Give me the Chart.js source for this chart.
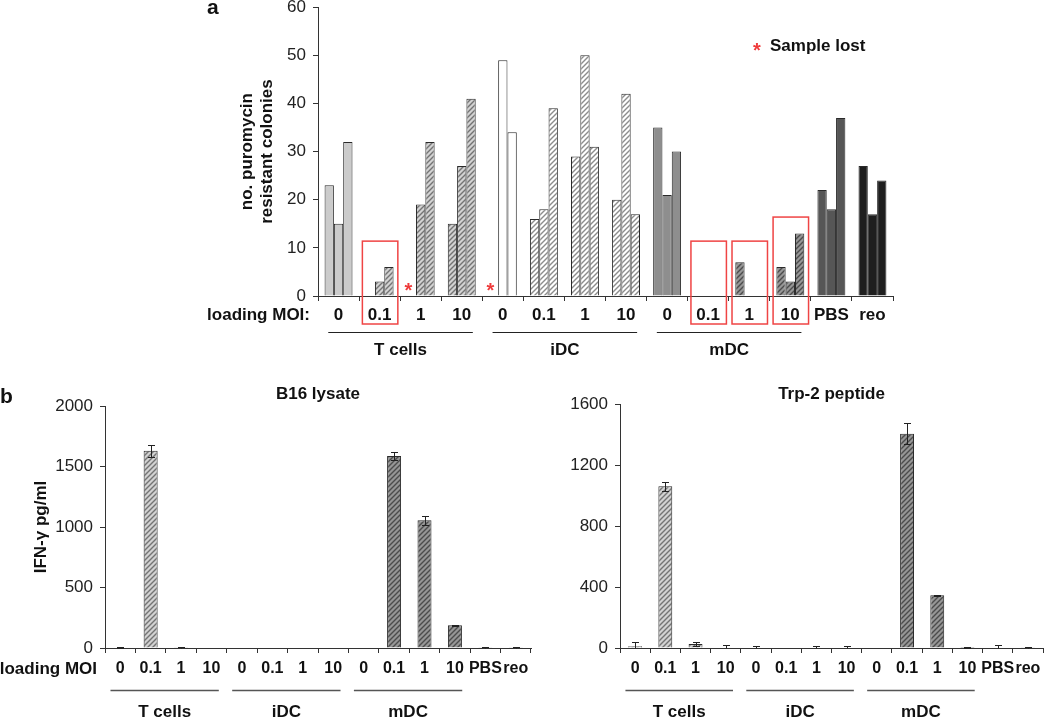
<!DOCTYPE html>
<html lang="en">
<head>
<meta charset="UTF-8">
<title>Puromycin resistant colonies and IFN-γ release</title>
<script src="https://cdn.jsdelivr.net/npm/chart.js"></script>
<style>
  body { margin: 0; background: #fff; }
  #page { position: relative; width: 1050px; height: 717px; overflow: hidden; }
  .box { position: absolute; }
</style>
</head>
<body>
<div id="page">
  <div class="box" style="left:0;top:-10px"><canvas id="chartA" width="1050" height="370"></canvas></div>
  <div class="box" style="left:0;top:380px"><canvas id="chartB1" width="540" height="337"></canvas></div>
  <div class="box" style="left:520px;top:380px"><canvas id="chartB2" width="530" height="337"></canvas></div>
</div>
<script>
const FONT = '"Liberation Sans", Arial, Helvetica, sans-serif';

// categories: loading MOI for each cell type, then controls
const moiLabels = ['0', '0.1', '1', '10', '0', '0.1', '1', '10', '0', '0.1', '1', '10', 'PBS', 'reo'];
const groupNames = ['T cells', 'iDC', 'mDC'];
const groupFirst = [0, 4, 8];
const groupLast = [3, 7, 11];

// panel a: colonies for each of the three replicates (null = sample lost)
const colonies1 = [23, 0, null, 15, null, 16, 29, 20, 35, 0, 7, 6, 22, 27];
const colonies2 = [15, 3, 19, 27, 49, 18, 50, 42, 21, 0, 0, 3, 18, 17];
const colonies3 = [32, 6, 32, 41, 34, 39, 31, 17, 30, 0, 0, 13, 37, 24];
const lostSamples = [[2, 0], [4, 0]];   // [category, replicate]
const lostLevel = 2;
const boxedCats = [1, 9, 10, 11];
const boxedTops = [11.4, 11.4, 11.4, 16.4];

// panel b: IFN-gamma pg/ml (mean, error)
const b16Mean = [5, 1630, 3, 0, 0, 0, 0, 0, 0, 1587, 1055, 187, 3, 3];
const b16Err  = [4, 50, 3, 0, 0, 0, 0, 0, 0, 32, 38, 3, 3, 3];
const trpMean = [12, 1060, 26, 3, 4, 0, 4, 4, 0, 1405, 346, 6, 4, 2];
const trpErr  = [29, 28, 15, 19, 6, 0, 6, 6, 0, 68, 3, 3, 13, 3];

function hatch(base, stripe) {
  const s = 5, c = document.createElement('canvas');
  c.width = s; c.height = s;
  const g = c.getContext('2d');
  g.fillStyle = base; g.fillRect(0, 0, s, s);
  g.strokeStyle = stripe; g.lineWidth = 1.4;
  g.beginPath();
  g.moveTo(0, s); g.lineTo(s, 0);
  g.moveTo(-1, 1); g.lineTo(1, -1);
  g.moveTo(s - 1, s + 1); g.lineTo(s + 1, s - 1);
  g.stroke();
  return g.createPattern(c, 'repeat');
}

const fills = {
  tSolid: '#cbcbcb', tHatch: hatch('#d2d2d2', '#747474'),
  iSolid: '#ffffff', iHatch: hatch('#ffffff', '#8c8c8c'),
  mSolid: '#8e8e8e', mHatch: hatch('#969696', '#4c4c4c'),
  pbs: '#565656', reo: '#1e1e1e'
};

function fillFor(i, solidZero) {
  if (moiLabels[i] === 'PBS') return fills.pbs;
  if (moiLabels[i] === 'reo') return fills.reo;
  const g = ['t', 'i', 'm'][Math.floor(i / 4)];
  return fills[g + (solidZero && moiLabels[i] === '0' ? 'Solid' : 'Hatch')];
}

function yScale(max, step, width) {
  return {
    min: 0, max: max,
    ticks: { stepSize: step, padding: 7, color: '#222', font: { family: FONT, size: 17 },
             callback: v => String(v) },
    grid: { drawOnChartArea: false, tickLength: 5, color: '#333' },
    border: { color: '#333', width: 1 },
    afterFit: s => { s.width = width; }
  };
}

function xScale(pad, height, size) {
  return {
    ticks: { padding: pad, color: '#111', autoSkip: false, maxRotation: 0,
             font: { family: FONT, size: size, weight: 'bold' } },
    grid: { drawOnChartArea: false, tickLength: 5, color: '#333', offset: true },
    border: { color: '#333', width: 1 },
    afterFit: s => { s.height = height; }
  };
}

function text(ctx, str, x, y, size, align, color, base) {
  ctx.font = 'bold ' + size + 'px ' + FONT;
  ctx.fillStyle = color || '#111';
  ctx.textAlign = align || 'center';
  ctx.textBaseline = base || 'middle';
  ctx.fillText(str, x, y);
}

function decor(cfg) {
  return {
    id: 'decor',
    afterDraw(chart) {
      const ctx = chart.ctx, xs = chart.scales.x, ys = chart.scales.y, area = chart.chartArea;
      const w = xs.getPixelForValue(1) - xs.getPixelForValue(0);
      ctx.save();

      // error bars
      if (cfg.errors) {
        const vals = chart.data.datasets[0].data;
        ctx.strokeStyle = '#222'; ctx.lineWidth = 1;
        chart.getDatasetMeta(0).data.forEach((bar, i) => {
          const e = cfg.errors[i];
          if (!e) return;
          const cx = Math.round(bar.x) + 0.5;
          const top = Math.round(ys.getPixelForValue(vals[i] + e)) + 0.5;
          const bot = Math.round(ys.getPixelForValue(Math.max(vals[i] - e, 0))) + 0.5;
          ctx.beginPath();
          ctx.moveTo(cx, top); ctx.lineTo(cx, bot);
          ctx.moveTo(cx - 3.5, top); ctx.lineTo(cx + 3.5, top);
          if (vals[i] - e > 0) { ctx.moveTo(cx - 3.5, bot); ctx.lineTo(cx + 3.5, bot); }
          ctx.stroke();
        });
      }

      // red boxes around categories
      if (cfg.boxes) {
        ctx.strokeStyle = '#ef4444'; ctx.lineWidth = 1.5;
        boxedCats.forEach((c, k) => {
          const cx = xs.getPixelForValue(c);
          const l = cx - w / 2 + 3.3, r = cx + w / 2 - 2.3;
          const t = ys.getPixelForValue(boxedTops[k]), b = area.bottom + 28;
          ctx.strokeRect(l, t, r - l, b - t);
        });
      }

      // lost sample markers and legend
      if (cfg.lost) {
        ctx.font = 'bold 20px ' + FONT;
        ctx.fillStyle = '#ef3b3b'; ctx.textAlign = 'center'; ctx.textBaseline = 'alphabetic';
        lostSamples.forEach(([c, rep]) => {
          const bar = chart.getDatasetMeta(rep).data[c];
          ctx.fillText('*', bar.x - 3, ys.getPixelForValue(lostLevel) + 11);
        });
        ctx.fillText('*', area.right - 136, area.top + 39 + 11);
        text(ctx, 'Sample lost', area.right - 123, area.top + 39, 17, 'left');
      }

      // group lines and names under the axis
      ctx.strokeStyle = cfg.lineColor; ctx.lineWidth = cfg.lineWidth;
      groupNames.forEach((name, k) => {
        const x0 = xs.getPixelForValue(groupFirst[k]) - w / 2 + cfg.inset[0] * w;
        const x1 = xs.getPixelForValue(groupLast[k]) + w / 2 - cfg.inset[1] * w;
        const ly = Math.round(area.bottom + cfg.lineDy) + 0.5;
        ctx.beginPath(); ctx.moveTo(x0, ly); ctx.lineTo(x1, ly); ctx.stroke();
        text(ctx, name, (x0 + x1) / 2, area.bottom + cfg.groupDy, 17);
      });

      if (cfg.moiText) text(ctx, cfg.moiText, area.left - 8, area.bottom + cfg.labelDy, 17, 'right');
      if (cfg.letter) text(ctx, cfg.letter[0], cfg.letter[1], cfg.letter[2], 21, 'left', '#111', 'alphabetic');
      if (cfg.title) text(ctx, cfg.title, (area.left + area.right) / 2, cfg.titleY, 17, 'center', '#111', 'alphabetic');
      ctx.restore();
    }
  };
}

const baseOptions = (padding) => ({
  responsive: false, animation: false, devicePixelRatio: 1,
  layout: { padding: padding },
  plugins: { legend: { display: false }, tooltip: { enabled: false } }
});

// ---- panel a ----
const optA = baseOptions({ left: 238, top: 16, right: 157, bottom: 0 });
optA.scales = {
  x: xScale(4, 64, 17),
  y: Object.assign(yScale(60, 10, 80), {
    title: { display: true, text: ['no. puromycin', 'resistant colonies'], color: '#111', padding: 0,
             font: { family: FONT, size: 17, weight: 'bold', lineHeight: 1.15 } }
  })
};
new Chart(document.getElementById('chartA'), {
  type: 'bar',
  data: {
    labels: moiLabels,
    datasets: [colonies1, colonies2, colonies3].map(d => ({
      data: d,
      backgroundColor: moiLabels.map((_, i) => fillFor(i, true)),
      borderColor: '#2a2a2a', borderWidth: 1,
      categoryPercentage: 0.68, barPercentage: 1
    }))
  },
  options: optA,
  plugins: [decor({ boxes: true, lost: true, lineColor: '#222', lineWidth: 1, inset: [0.25, 0.23],
                    lineDy: 36, groupDy: 54, labelDy: 19, moiText: 'loading MOI:', letter: ['a', 207, 24] })]
});

// ---- panel b, B16 lysate ----
const optB1 = baseOptions({ left: 32, top: 26, right: 9, bottom: 0 });
optB1.scales = {
  x: xScale(6, 69, 16),
  y: Object.assign(yScale(2000, 500, 73), {
    title: { display: true, text: 'IFN-γ pg/ml', color: '#111', padding: 0,
             font: { family: FONT, size: 17, weight: 'bold', lineHeight: 1.15 } }
  })
};
new Chart(document.getElementById('chartB1'), {
  type: 'bar',
  data: {
    labels: moiLabels,
    datasets: [{
      data: b16Mean,
      backgroundColor: moiLabels.map((_, i) => fillFor(i, false)),
      borderColor: '#2a2a2a', borderWidth: 1,
      categoryPercentage: 1, barPercentage: 0.46
    }]
  },
  options: optB1,
  plugins: [decor({ errors: b16Err, lineColor: '#555', lineWidth: 1.5, inset: [0.18, 0.26],
                    lineDy: 42, groupDy: 64, labelDy: 21.5, moiText: 'loading MOI',
                    letter: ['b', 0, 23], title: 'B16 lysate', titleY: 19 })]
});

// ---- panel b, Trp-2 peptide ----
const optB2 = baseOptions({ left: 0, top: 24, right: 7, bottom: 0 });
optB2.scales = { x: xScale(6, 69, 16), y: yScale(1600, 400, 100) };
new Chart(document.getElementById('chartB2'), {
  type: 'bar',
  data: {
    labels: moiLabels,
    datasets: [{
      data: trpMean,
      backgroundColor: moiLabels.map((_, i) => fillFor(i, false)),
      borderColor: '#2a2a2a', borderWidth: 1,
      categoryPercentage: 1, barPercentage: 0.46
    }]
  },
  options: optB2,
  plugins: [decor({ errors: trpErr, lineColor: '#555', lineWidth: 1.5, inset: [0.18, 0.26],
                    lineDy: 42, groupDy: 64, labelDy: 21.5, title: 'Trp-2 peptide', titleY: 19 })]
});
</script>
</body>
</html>
